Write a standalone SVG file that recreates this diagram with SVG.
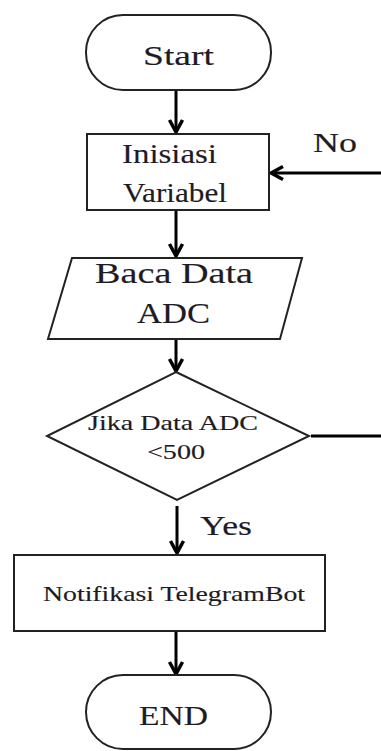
<svg xmlns="http://www.w3.org/2000/svg" width="381" height="751" viewBox="0 0 381 751">
<style>
.shape{fill:#ffffff;stroke:#222222;stroke-width:2}
.t{font-family:"Liberation Serif","Times New Roman",serif;fill:#1e1b24;stroke:#1e1b24;stroke-width:0.15}
.big{font-size:28px}
.small{font-size:21px}
.conn{stroke:#000000;stroke-width:3;fill:none}
</style>
<defs>
<marker id="head" markerUnits="userSpaceOnUse" viewBox="0 0 20 20" refX="17" refY="10" markerWidth="20" markerHeight="20" orient="auto">
<path d="M5,3.5 L17,10 L5,16.5" fill="none" stroke="#000000" stroke-width="3.5" stroke-linejoin="miter"/>
</marker>
</defs>
<rect width="381" height="751" fill="#ffffff"/>
<g id="connectors">
<line class="conn" x1="176" y1="90" x2="176" y2="132" marker-end="url(#head)"/>
<line class="conn" x1="176" y1="210" x2="176" y2="256" marker-end="url(#head)"/>
<line class="conn" x1="176" y1="340" x2="176" y2="371" marker-end="url(#head)"/>
<line class="conn" x1="177" y1="506" x2="177" y2="553" marker-end="url(#head)"/>
<line class="conn" x1="176" y1="632" x2="176" y2="674" marker-end="url(#head)"/>
<line class="conn" x1="381" y1="173" x2="271" y2="173" marker-end="url(#head)"/>
<line class="conn" x1="311" y1="436" x2="381" y2="436"/>
<text class="t big" x="313" y="152" textLength="44" lengthAdjust="spacingAndGlyphs">No</text>
<text class="t big" x="200" y="535" textLength="52" lengthAdjust="spacingAndGlyphs">Yes</text>
</g>
<g id="start">
<rect class="shape" x="86" y="15" width="185" height="75" rx="37" ry="37"/>
<text class="t big" x="143" y="65" textLength="71" lengthAdjust="spacingAndGlyphs">Start</text>
</g>
<g id="inisiasi">
<rect class="shape" x="87" y="134" width="182" height="76"/>
<text class="t big" x="122" y="163" textLength="95" lengthAdjust="spacingAndGlyphs">Inisiasi</text>
<text class="t big" x="123" y="202" textLength="104" lengthAdjust="spacingAndGlyphs">Variabel</text>
</g>
<g id="baca">
<polygon class="shape" points="72,258 302,258 280,339 48,339"/>
<text class="t" font-size="29" x="95" y="283" textLength="158" lengthAdjust="spacingAndGlyphs">Baca Data</text>
<text class="t" font-size="29" x="137" y="323" textLength="73" lengthAdjust="spacingAndGlyphs">ADC</text>
</g>
<g id="decision">
<polygon class="shape" points="176,372 309,436 177,500 47,436"/>
<text class="t small" x="88" y="430" textLength="170" lengthAdjust="spacingAndGlyphs">Jika Data ADC</text>
<text class="t small" x="147" y="459" textLength="58" lengthAdjust="spacingAndGlyphs">&lt;500</text>
</g>
<g id="notifikasi">
<rect class="shape" x="14" y="555" width="311" height="76"/>
<text class="t small" x="43" y="601" textLength="262" lengthAdjust="spacingAndGlyphs">Notifikasi TelegramBot</text>
</g>
<g id="end">
<rect class="shape" x="86" y="675" width="185" height="74" rx="37" ry="37"/>
<text class="t" font-size="27" x="139" y="725" textLength="69" lengthAdjust="spacingAndGlyphs">END</text>
</g>
</svg>
